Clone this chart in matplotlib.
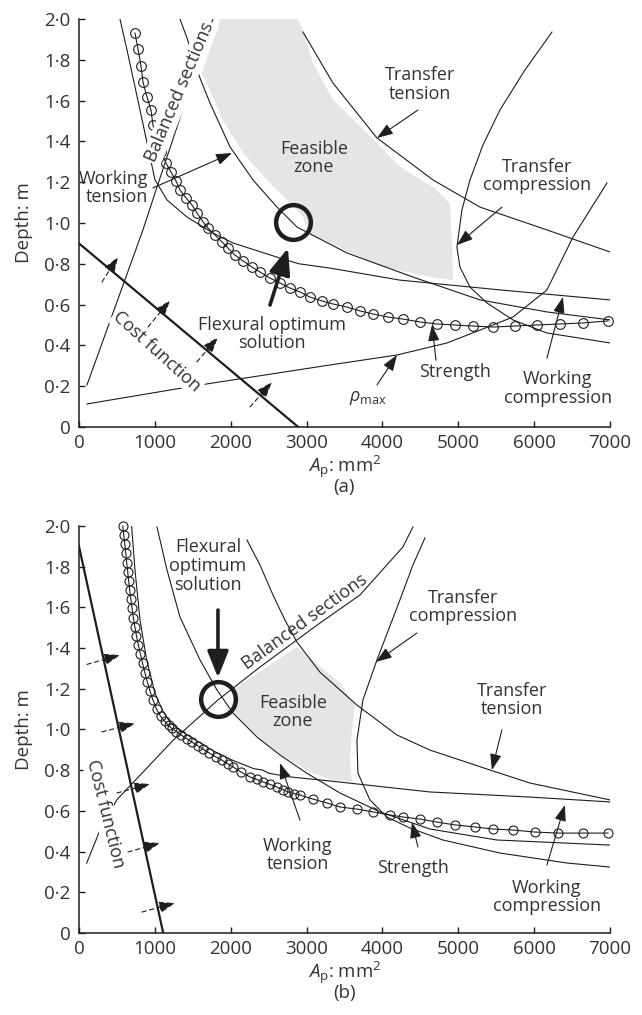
import matplotlib.pyplot as plt
from matplotlib.patches import Polygon

plt.rcParams['font.family'] = ['Open Sans', 'DejaVu Sans']
plt.rcParams['mathtext.fontset'] = 'custom'
plt.rcParams['mathtext.rm'] = 'Open Sans'
plt.rcParams['mathtext.it'] = 'Open Sans:italic'
plt.rcParams['mathtext.bf'] = 'Open Sans:bold'

TXT = '#333333'
LN = '#1e1e1e'
ZONE = '#e4e5e7'

y_ticks = [0, 0.2, 0.4, 0.6, 0.8, 1.0, 1.2, 1.4, 1.6, 1.8, 2.0]
y_tick_labels = ['0', '0·2', '0·4', '0·6', '0·8', '1·0', '1·2', '1·4', '1·6', '1·8', '2·0']
x_ticks = [0, 1000, 2000, 3000, 4000, 5000, 6000, 7000]
x_tick_labels = ['0', '1000', '2000', '3000', '4000', '5000', '6000', '7000']

# ---- panel (a) ----
a_strength_x = [738, 778, 817, 844, 896, 949, 975, 1028, 1081, 1147, 1213, 1279, 1331, 1411,
                1490, 1556, 1635, 1700, 1793, 1885, 1964, 2056, 2162, 2281, 2386, 2518, 2650,
                2781, 2913, 3045, 3203, 3348, 3533, 3704, 3876, 4073, 4271, 4495, 4719, 4957,
                5194, 5457, 5747, 6037, 6340, 6644, 6973]
a_strength_y = [1.931, 1.853, 1.770, 1.691, 1.618, 1.554, 1.480, 1.407, 1.348, 1.294, 1.250,
                1.206, 1.162, 1.123, 1.088, 1.049, 1.005, 0.975, 0.941, 0.907, 0.877, 0.843,
                0.814, 0.784, 0.760, 0.730, 0.706, 0.681, 0.662, 0.637, 0.618, 0.603, 0.588,
                0.569, 0.554, 0.539, 0.529, 0.515, 0.505, 0.500, 0.495, 0.490, 0.495, 0.500,
                0.505, 0.510, 0.520]

a_wcomp_x = [540, 633, 804, 1002, 1160, 1424, 1766, 2030, 2650, 2900, 3309, 4232, 5550, 7000]
a_wcomp_y = [2.0, 1.848, 1.554, 1.211, 1.113, 1.029, 0.951, 0.902, 0.828, 0.800, 0.779, 0.720,
             0.672, 0.623]

a_wtens_x = [1331, 1424, 1569, 1727, 1991, 2294, 2610, 2874, 3533, 4403, 5286, 6169, 7000]
a_wtens_y = [2.0, 1.907, 1.735, 1.588, 1.373, 1.211, 1.078, 0.980, 0.853, 0.735, 0.623, 0.564,
             0.525]

a_ttens_x = [2953, 3348, 3928, 4667, 5286, 6169, 7000]
a_ttens_y = [1.936, 1.686, 1.417, 1.211, 1.078, 0.966, 0.858]

a_tcomp_x = [6235, 5879, 5549, 5325, 5154, 5048, 4982, 5022, 5154, 5378, 5720, 6168, 7000]
a_tcomp_y = [1.936, 1.750, 1.554, 1.382, 1.211, 1.064, 0.882, 0.784, 0.686, 0.608, 0.525,
             0.461, 0.412]

a_rho_x = [105, 1595, 3309, 4192, 4851, 5286, 5721, 6169, 6512, 6736, 6960]
a_rho_y = [0.113, 0.206, 0.304, 0.353, 0.412, 0.475, 0.539, 0.672, 0.931, 1.064, 1.196]

a_bal_x = [105, 843, 1028, 1766]
a_bal_y = [0.206, 0.966, 1.176, 2.0]

a_cost_x = [0, 2890]
a_cost_y = [0.9, 0.0]

a_zone_x = [1859, 1622, 1898, 2162, 2478, 2781, 2953, 3045, 3533, 3968, 4627, 4930, 4917,
            4890, 4667, 4232, 3797, 3348, 3084, 2953, 2887]
a_zone_y = [2.0, 1.735, 1.505, 1.343, 1.211, 1.098, 1.029, 0.941, 0.863, 0.789, 0.735, 0.721,
            0.892, 1.098, 1.176, 1.275, 1.441, 1.603, 1.784, 1.946, 2.0]

a_opt = (2821, 1.005)

# ---- panel (b) ----
b_strength_x = [576, 590, 604, 617, 629, 642, 655, 669, 684, 699, 716, 736, 758, 783, 810, 838,
                868, 900, 935, 975, 1022, 1075, 1130, 1180, 1225, 1285, 1350, 1420, 1490, 1565,
                1640, 1720, 1800, 1880, 1960, 2030, 2140, 2254, 2340, 2425, 2520, 2610, 2685,
                2755, 2835, 2913, 3084, 3269, 3440, 3664, 3876, 4100, 4271, 4495, 4719, 4957,
                5220, 5457, 5721, 6010, 6314, 6644, 6973]
b_strength_y = [2.00, 1.955, 1.91, 1.865, 1.82, 1.775, 1.73, 1.685, 1.64, 1.595, 1.55, 1.505,
                1.46, 1.415, 1.37, 1.325, 1.28, 1.235, 1.19, 1.145, 1.10, 1.065, 1.04, 1.02,
                1.005, 0.99, 0.972, 0.955, 0.938, 0.92, 0.902, 0.884, 0.866, 0.85, 0.832, 0.816,
                0.79, 0.767, 0.755, 0.742, 0.73, 0.717, 0.705, 0.693, 0.685, 0.678, 0.658,
                0.639, 0.619, 0.609, 0.595, 0.58, 0.57, 0.56, 0.545, 0.531, 0.521, 0.511,
                0.506, 0.496, 0.491, 0.491, 0.491]

b_wcomp_x = [694, 738, 804, 892, 1002, 1100, 1200, 1331, 1551, 1770, 2030, 2300, 2425, 2500,
             2781, 3308, 4626, 5944, 7000]
b_wcomp_y = [1.997, 1.784, 1.538, 1.342, 1.178, 1.095, 1.035, 0.995, 0.945, 0.895, 0.848,
             0.808, 0.800, 0.785, 0.767, 0.747, 0.693, 0.668, 0.644]

b_wtens_x = [1028, 1160, 1331, 1595, 1819, 2030, 2346, 2650, 2979, 3440, 3967, 4626, 5509, 7000]
b_wtens_y = [1.995, 1.784, 1.553, 1.342, 1.194, 1.081, 0.963, 0.875, 0.791, 0.688, 0.595,
             0.511, 0.457, 0.432]

b_ttens_x = [2214, 2386, 2557, 2715, 2873, 3176, 3664, 4191, 4626, 5417, 5944, 7000]
b_ttens_y = [1.931, 1.808, 1.661, 1.538, 1.430, 1.282, 1.120, 0.973, 0.899, 0.801, 0.737, 0.654]

b_tcomp_x = [4560, 4402, 4230, 3927, 3743, 3664, 3677, 3835, 4059, 4362, 4797, 5548, 6431, 7000]
b_tcomp_y = [1.941, 1.808, 1.636, 1.341, 1.145, 0.948, 0.786, 0.654, 0.570, 0.516, 0.457,
             0.393, 0.344, 0.324]

b_bal_x = [101, 277, 497, 870, 1243, 1832, 2386, 3176, 3704, 4270, 4402]
b_bal_y = [0.343, 0.506, 0.654, 0.801, 0.948, 1.145, 1.307, 1.523, 1.661, 1.897, 1.995]

b_cost_x = [0, 1110]
b_cost_y = [1.9, 0.0]

b_zone_x = [2017, 2873, 3440, 3638, 3598, 3572, 3598, 3330, 3045, 2649, 2320, 2056]
b_zone_y = [1.194, 1.405, 1.229, 1.120, 0.998, 0.850, 0.742, 0.752, 0.790, 0.880, 0.975, 1.080]

b_opt = (1832, 1.15)


def setup(ax, tag):
    ax.set_xlim(0, 7000)
    ax.set_ylim(0, 2.0)
    for s in ['top', 'right']:
        ax.spines[s].set_visible(False)
    for s in ['left', 'bottom']:
        ax.spines[s].set_linewidth(1.1)
        ax.spines[s].set_color(LN)
    ax.set_xticks(x_ticks)
    ax.set_xticklabels(x_tick_labels)
    ax.set_yticks(y_ticks)
    ax.set_yticklabels(y_tick_labels)
    ax.tick_params(direction='in', length=4, width=1.0, color=LN, labelsize=13.5,
                   labelcolor=TXT)
    ax.tick_params(axis='x', pad=5)
    ax.tick_params(axis='y', pad=6)
    ax.set_ylabel('Depth: m', fontsize=13.5, color=TXT, labelpad=8)
    ax.set_xlabel('$A_{\\mathrm{p}}$: mm$^2$\n(' + tag + ')', fontsize=13.5, color=TXT,
                  labelpad=1, linespacing=0.9)


def curve(ax, xs, ys, lw=0.8):
    ax.plot(xs, ys, color=LN, lw=lw, zorder=2, solid_joinstyle='round')


def arrow(ax, tail, tip):
    ax.annotate('', xy=tip, xytext=tail,
                arrowprops=dict(arrowstyle='-|>,head_length=0.7,head_width=0.25', color=LN,
                                lw=0.8, shrinkA=0, shrinkB=0, mutation_scale=14), zorder=4)


def dashed_arrow(ax, tail, tip):
    ax.annotate('', xy=tip, xytext=tail,
                arrowprops=dict(arrowstyle='-|>,head_length=0.7,head_width=0.25', color=LN,
                                lw=0.8, ls=(0, (4, 3)), shrinkA=0, shrinkB=0,
                                mutation_scale=14), zorder=4)


def bold_arrow(ax, tail, tip):
    ax.annotate('', xy=tip, xytext=tail,
                arrowprops=dict(arrowstyle='-|>,head_length=1.0,head_width=0.4', color=LN,
                                lw=2.6, shrinkA=0, shrinkB=0, mutation_scale=16), zorder=5)


def label(ax, x, y, s, **kw):
    kw.setdefault('ha', 'center')
    kw.setdefault('va', 'center')
    ax.text(x, y, s, fontsize=13, color=TXT, linespacing=1.05, zorder=3, **kw)


white = dict(boxstyle='square,pad=0.08', fc='white', ec='none')

fig = plt.figure(figsize=(6.42, 10.15), dpi=100)
ax1 = fig.add_axes([0.12305, 0.57931, 0.82710, 0.40197])
ax2 = fig.add_axes([0.12305, 0.08079, 0.82710, 0.40099])

# ---------- (a) ----------
setup(ax1, 'a')
ax1.add_patch(Polygon(list(zip(a_zone_x, a_zone_y)), closed=True, fc=ZONE, ec='none', zorder=0))
curve(ax1, a_wcomp_x, a_wcomp_y)
curve(ax1, a_wtens_x, a_wtens_y)
curve(ax1, a_ttens_x, a_ttens_y)
curve(ax1, a_tcomp_x, a_tcomp_y)
curve(ax1, a_rho_x, a_rho_y)
curve(ax1, a_bal_x, a_bal_y)
curve(ax1, a_cost_x, a_cost_y, lw=1.6)
ax1.plot(a_strength_x, a_strength_y, '-o', color=LN, lw=0.8, ms=7, mfc='none', mec=LN,
         mew=0.8, zorder=2, clip_on=False)
ax1.plot(*a_opt, 'o', ms=25, mfc='none', mec=LN, mew=3.2, zorder=5)
bold_arrow(ax1, (2518, 0.598), (2755, 0.877))

for tail, tip in [((303, 0.711), (514, 0.833)), ((910, 0.49), (1200, 0.62)),
                  ((1555, 0.319), (1832, 0.44)), ((2254, 0.098), (2544, 0.22))]:
    dashed_arrow(ax1, tail, tip)

label(ax1, 1331, 1.642, 'Balanced sections', rotation=67, bbox=white)
label(ax1, 1028, 0.368, 'Cost function', rotation=-42, bbox=white)
label(ax1, 909, 1.172, 'Working\ntension', ha='right', multialignment='right')
arrow(ax1, (975, 1.172), (2017, 1.343))
label(ax1, 3097, 1.319, 'Feasible\nzone')
label(ax1, 4495, 1.68, 'Transfer\ntension')
arrow(ax1, (4469, 1.554), (3928, 1.417))
label(ax1, 6037, 1.23, 'Transfer\ncompression')
arrow(ax1, (5576, 1.078), (4983, 0.892))
label(ax1, 2544, 0.456, 'Flexural optimum\nsolution')
label(ax1, 4957, 0.27, 'Strength')
arrow(ax1, (4706, 0.328), (4653, 0.50))
label(ax1, 6314, 0.19, 'Working\ncompression')
arrow(ax1, (6169, 0.338), (6380, 0.637))
label(ax1, 3810, 0.142, '$\\rho_{\\mathrm{max}}$')
arrow(ax1, (3928, 0.206), (4192, 0.353))

# ---------- (b) ----------
setup(ax2, 'b')
ax2.add_patch(Polygon(list(zip(b_zone_x, b_zone_y)), closed=True, fc=ZONE, ec='none', zorder=0))
curve(ax2, b_wcomp_x, b_wcomp_y)
curve(ax2, b_wtens_x, b_wtens_y)
curve(ax2, b_ttens_x, b_ttens_y)
curve(ax2, b_tcomp_x, b_tcomp_y)
curve(ax2, b_bal_x, b_bal_y)
curve(ax2, b_cost_x, b_cost_y, lw=1.6)
ax2.plot(b_strength_x, b_strength_y, '-o', color=LN, lw=0.8, ms=6.5, mfc='none', mec=LN,
         mew=0.8, zorder=2, clip_on=False)
ax2.plot(*b_opt, 'o', ms=25, mfc='none', mec=LN, mew=3.2, zorder=5)
bold_arrow(ax2, (1832, 1.587), (1832, 1.255))

for tail, tip in [((105, 1.32), (540, 1.366)), ((303, 0.988), (738, 1.03)),
                  ((500, 0.688), (936, 0.732)), ((646, 0.398), (1068, 0.442)),
                  ((830, 0.103), (1265, 0.147))]:
    dashed_arrow(ax2, tail, tip)

label(ax2, 2979, 1.528, 'Balanced sections', rotation=36)
label(ax2, 343, 0.585, 'Cost function', rotation=-76, bbox=white)
label(ax2, 1700, 1.803, 'Flexural\noptimum\nsolution')
label(ax2, 2820, 1.086, 'Feasible\nzone')
label(ax2, 5061, 1.602, 'Transfer\ncompression')
arrow(ax2, (4455, 1.474), (3914, 1.332))
label(ax2, 5707, 1.145, 'Transfer\ntension')
arrow(ax2, (5575, 0.998), (5443, 0.801))
label(ax2, 2886, 0.383, 'Working\ntension')
arrow(ax2, (2913, 0.555), (2649, 0.835))
label(ax2, 4402, 0.319, 'Strength')
arrow(ax2, (4468, 0.423), (4389, 0.545))
label(ax2, 6168, 0.177, 'Working\ncompression')
arrow(ax2, (6168, 0.334), (6405, 0.629))

fig.savefig('out.png', dpi=100)
